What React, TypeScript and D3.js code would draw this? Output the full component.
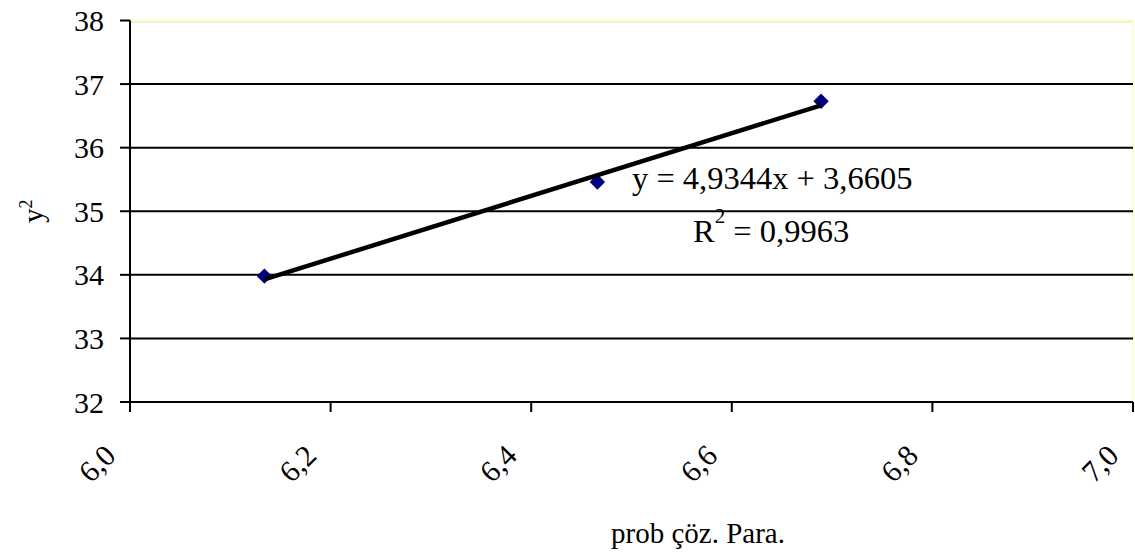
import React from "react";
import * as d3 from "d3";

// Measured points: probability-solution parameter vs y²
const xValues = [6.134, 6.466, 6.689];
const yValues = [33.98, 35.46, 36.73];

// Linear trend reported on the chart
const slope = 4.9344;
const intercept = 3.6605;
const equation = "y = 4,9344x + 3,6605";
const rSquared = "0,9963";

const xTicks = [6.0, 6.2, 6.4, 6.6, 6.8, 7.0];
const yTicks = [32, 33, 34, 35, 36, 37, 38];

const width = 1135;
const height = 559;
const margin = { left: 130, right: 2, top: 20.5, bottom: 157 };

const fmt = (v: number) => v.toFixed(1).replace(".", ",");

export default function App() {
  const x = d3.scaleLinear().domain([6.0, 7.0]).range([margin.left, width - margin.right]);
  const y = d3.scaleLinear().domain([32, 38]).range([height - margin.bottom, margin.top]);

  const x0 = d3.min(xValues)!;
  const x1 = d3.max(xValues)!;
  const trend = d3
    .line<number>()
    .x((d) => x(d))
    .y((d) => y(slope * d + intercept));

  const diamond = d3.symbol().type(d3.symbolDiamond2).size(150)();

  const font = "'Liberation Serif', 'Times New Roman', 'DejaVu Serif', serif";
  const plotBottom = y(32);
  const plotRight = x(7.0);

  return (
    <svg
      width={width}
      height={height}
      style={{ position: "absolute", left: 0, top: 0, background: "#fff", fontFamily: font }}
    >
      {/* top and right plot border */}
      <line x1={x(6.0)} x2={plotRight} y1={y(38)} y2={y(38)} stroke="#ffffc0" strokeWidth={2} />
      <line x1={x(6.0)} x2={plotRight} y1={y(38) + 1.5} y2={y(38) + 1.5} stroke="#d8d8c8" strokeWidth={0.8} />
      <line x1={plotRight} x2={plotRight} y1={y(38)} y2={plotBottom} stroke="#ffffc0" strokeWidth={2} />

      {/* horizontal gridlines */}
      {yTicks
        .filter((t) => t !== 32 && t !== 38)
        .map((t) => (
          <line key={t} x1={x(6.0)} x2={plotRight} y1={y(t)} y2={y(t)} stroke="#000" strokeWidth={2} />
        ))}

      {/* y axis */}
      <line x1={x(6.0)} x2={x(6.0)} y1={y(38)} y2={plotBottom} stroke="#000" strokeWidth={2} />
      {yTicks.map((t) => (
        <g key={t}>
          <line x1={x(6.0) - 10} x2={x(6.0)} y1={y(t)} y2={y(t)} stroke="#000" strokeWidth={2} />
          <text x={x(6.0) - 26} y={y(t)} dy="0.35em" textAnchor="end" fontSize={30} fill="#000">
            {t}
          </text>
        </g>
      ))}

      {/* x axis */}
      <line x1={x(6.0)} x2={plotRight} y1={plotBottom} y2={plotBottom} stroke="#000" strokeWidth={2} />
      {xTicks.map((t) => (
        <g key={t}>
          <line x1={x(t)} x2={x(t)} y1={plotBottom} y2={plotBottom + 10} stroke="#000" strokeWidth={2} />
          <text
            transform={`translate(${x(t) - 20},${plotBottom + 48}) rotate(-45)`}
            textAnchor="end"
            dy="0.35em"
            fontSize={30}
            fill="#000"
          >
            {fmt(t)}
          </text>
        </g>
      ))}

      {/* data markers */}
      {xValues.map((v, i) => (
        <path key={i} d={diamond!} transform={`translate(${x(v)},${y(yValues[i])})`} fill="#000080" />
      ))}

      {/* trendline */}
      <path d={trend([x0, x1])!} stroke="#000" strokeWidth={4.5} fill="none" />

      {/* equation */}
      <text x={632} y={189} fontSize={32.5} fill="#000">
        {equation}
      </text>
      <text x={693} y={242} fontSize={32.5} fill="#000">
        R
        <tspan dy={-19} fontSize={21}>2</tspan>
        <tspan dy={19}> = {rSquared}</tspan>
      </text>

      {/* axis titles */}
      <text x={698} y={543} textAnchor="middle" fontSize={29} fill="#000">
        prob çöz. Para.
      </text>
      <text transform={`translate(43,${y(35)}) rotate(-90)`} textAnchor="middle" fontSize={29} fill="#000">
        y<tspan dy={-11} fontSize={18}>2</tspan>
      </text>
    </svg>
  );
}
